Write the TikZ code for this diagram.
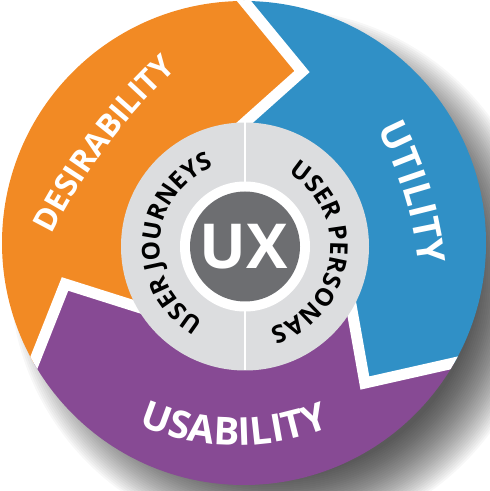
\documentclass[tikz,border=0pt]{standalone}
\usepackage{fontspec}
\setmainfont{Open Sans}
\usetikzlibrary{calc,decorations.text}
\definecolor{ornG}{RGB}{242,138,36}
\definecolor{bluE}{RGB}{48,144,198}
\definecolor{purP}{RGB}{135,74,148}
\definecolor{lgreY}{RGB}{220,221,223}
\definecolor{dgreY}{RGB}{109,110,113}
\tikzset{
  gap/.style={white,line width=11pt,line join=miter},
  bigtxt/.style={decorate,decoration={text along path,text align=center,text={#1}}}
}
\begin{document}
\begin{tikzpicture}[x=1pt,y=1pt]
\useasboundingbox (0,0) rectangle (490,491);
\coordinate (O) at (244,248);
\coordinate (C) at (245,244.5);
% soft shadow
\begin{scope}
\clip (0,0) rectangle (490,491);
\foreach \r in {202,204,...,266}
  \fill[black,opacity=0.03] ($(O)+(32,-32)$) circle[radius=\r];
\end{scope}
% boundary points
\coordinate (T1) at ($(O)+(71.3:181)$);
\coordinate (I1) at ($(C)+(90:124)$);
\coordinate (U1) at ($(O)+(90:242)$);
\coordinate (T2) at ($(O)+(192.9:183.6)$);
\coordinate (I2) at ($(C)+(209:124)$);
\coordinate (U2) at ($(O)+(209.7:242)$);
\coordinate (T3) at ($(O)+(310.8:185)$);
\coordinate (I3) at ($(C)+(329.5:124)$);
\coordinate (U3) at ($(O)+(330.3:242)$);
\foreach \k in {1,2,3}{
  \coordinate (I\k x) at ($(T\k)!1.2!(I\k)$);
  \coordinate (U\k x) at ($(T\k)!1.25!(U\k)$);
}
\begin{scope}
\clip (O) circle[radius=242];
\fill[ornG] (C) -- (I1x) -- (T1) -- (U1x) -- ($(O)+(120:330)$) -- ($(O)+(150:330)$) -- ($(O)+(180:330)$) -- (U2x) -- (T2) -- (I2x) -- cycle;
\fill[purP] (C) -- (I2x) -- (T2) -- (U2x) -- ($(O)+(240:330)$) -- ($(O)+(270:330)$) -- ($(O)+(300:330)$) -- (U3x) -- (T3) -- (I3x) -- cycle;
\fill[bluE] (C) -- (I3x) -- (T3) -- (U3x) -- ($(O)+(0:330)$) -- ($(O)+(30:330)$) -- ($(O)+(60:330)$) -- (U1x) -- (T1) -- (I1x) -- cycle;
\draw[gap] (U1x) -- (T1) -- (I1x);
\draw[gap] (U2x) -- (T2) -- (I2x);
\draw[gap] (U3x) -- (T3) -- (I3x);
\end{scope}
% centre
\fill[lgreY] (C) circle[radius=124];
\draw[white,line width=2pt] ($(C)+(0,124)$) -- ($(C)+(0,-124)$);
\fill[white] (C) circle[radius=65];
\fill[dgreY] (C) circle[radius=55];
\node[font=\fontsize{62}{62}\selectfont\bfseries,text=white,inner sep=0pt] (ux) at ($(C)+(-1,0)$) {UX};
% outer labels
\path[bigtxt={|\color{white}\fontsize{31.5}{31.5}\selectfont\bfseries|DESIRABILITY}]
  ($(577.4,-9)+(163.05:588.7)$) arc[start angle=163.05,end angle=123.05,radius=588.7];
\path[bigtxt={|\color{white}\fontsize{38}{38}\selectfont\bfseries|UTILITY}]
  ($(34.6,183.7)+(38.86:386.4)$) arc[start angle=38.86,end angle=-5.14,radius=386.4];
\path[bigtxt={|\color{white}\fontsize{38.5}{38.5}\selectfont\bfseries|USABILITY}]
  ($(236.7,289.2)+(229.45:243.8)$) arc[start angle=229.45,end angle=309.45,radius=243.8];
% inner labels
\path[bigtxt={|\fontsize{24.5}{24.5}\selectfont\bfseries|USER JOURNEYS}]
  ($(C)+(256.1:85.3)$) arc[start angle=256.1,end angle=96.1,radius=85.3];
\path[bigtxt={|\fontsize{24.5}{24.5}\selectfont\bfseries|USER PERSONAS}]
  ($(C)+(73.2:85.3)$) arc[start angle=73.2,end angle=-86.8,radius=85.3];
\end{tikzpicture}
\end{document}
